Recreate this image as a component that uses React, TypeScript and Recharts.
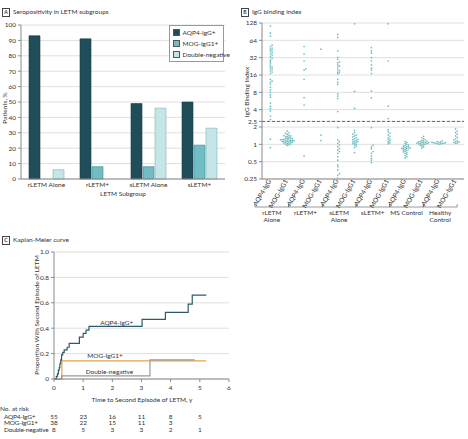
import {
  BarChart,
  Bar,
  XAxis,
  YAxis,
  CartesianGrid,
  Legend,
  ScatterChart,
  Scatter,
  ReferenceLine,
  ReferenceDot,
  LineChart,
  Line,
} from "recharts";

const font = "Lato, 'Open Sans', sans-serif";
const fs = 6.5;
const ink = "#333";
const gridC = "#e0e0e0";
const axisC = "#8a8a8a";

// ---------- panel A: seropositivity
const subgroups = ["rLETM Alone", "rLETM+", "sLETM Alone", "sLETM+"];
const aqp4Pct = [93, 91, 49, 50];
const mogPct = [null, 8, 8, 22];
const dnPct = [6, null, 46, 33];
const pctTicks = [0, 10, 20, 30, 40, 50, 60, 70, 80, 90, 100];
const seriesOrder = ["aqp4", "mog", "dn"];

const barData = subgroups.map((name, i) => ({
  name,
  aqp4: aqp4Pct[i],
  mog: mogPct[i],
  dn: dnPct[i],
}));

// ---------- panel B: IgG binding index
const markers = ["AQP4-IgG", "MOG-IgG1"];
const cohorts = ["rLETM\nAlone", "rLETM+", "sLETM\nAlone", "sLETM+", "MS Control", "Healthy\nControl"];
const indexTicks = [0.25, 0.5, 1, 2, 2.5, 4, 8, 16, 32, 64, 128];
const cutoff = 2.5;

const rletmAloneAqp4 = [113, 86, 76, 53, 50, 47, 45, 43, 41, 39, 37, 35, 33, 31, 29, 27, 25, 23, 22, 21, 20, 19, 18, 17, 13.4, 12.5, 11.8, 11, 9.8, 8.8, 8, 7.2, 6.6, 5.2, 4.6, 4.2, 3.8, 3.1, 2.7, 1.23, 0.88];
const rletmAloneMog = [1.7, 1.6, 1.55, 1.5, 1.45, 1.42, 1.4, 1.38, 1.35, 1.33, 1.3, 1.28, 1.26, 1.25, 1.24, 1.22, 1.21, 1.2, 1.19, 1.18, 1.17, 1.16, 1.15, 1.14, 1.13, 1.12, 1.11, 1.1, 1.09, 1.08, 1.06, 1.05, 1.03, 1.02, 1.0, 0.98, 0.96];
const rletmPlusAqp4 = [50, 37, 28, 20.5, 19.5, 13.5, 6.5, 4.8, 0.63];
const rletmPlusMog = [45, 1.45, 1.16];
const sletmAloneAqp4 = [81, 72, 42, 32.5, 30, 27, 26, 24, 23, 22, 20, 19, 18, 17.5, 16.7, 13.5, 12, 11, 7.5, 6.9, 6.2, 3.7, 1.95, 1.19, 1.11, 1.04, 0.97, 0.91, 0.85, 0.8, 0.75, 0.7, 0.61, 0.53, 0.44, 0.41, 0.36, 0.31, 0.29, 0.26];
const sletmAloneMog = [124, 8.3, 4.2, 1.75, 1.6, 1.5, 1.45, 1.4, 1.35, 1.3, 1.26, 1.22, 1.2, 1.17, 1.14, 1.12, 1.1, 1.08, 1.05, 1.02, 1.0, 0.97, 0.93, 0.88, 0.72];
const sletmPlusAqp4 = [48, 42, 38.5, 32, 28, 24, 21, 19.5, 17, 8.4, 6.4, 1.95, 0.97, 0.91, 0.84, 0.75, 0.7, 0.63, 0.57, 0.53, 0.48];
const sletmPlusMog = [124, 28, 4.6, 2.8, 1.8, 1.65, 1.55, 1.45, 1.38, 1.3, 1.25, 1.2, 1.15, 1.1, 1.06, 1.02];
const msAqp4 = [1.12, 1.08, 1.03, 1.0, 0.97, 0.95, 0.93, 0.91, 0.9, 0.88, 0.87, 0.86, 0.85, 0.84, 0.83, 0.82, 0.8, 0.78, 0.76, 0.74, 0.72, 0.7, 0.67, 0.64, 0.61, 0.58];
const msMog = [1.38, 1.3, 1.25, 1.2, 1.17, 1.15, 1.13, 1.12, 1.1, 1.09, 1.08, 1.07, 1.06, 1.05, 1.04, 1.03, 1.02, 1.01, 1.0, 0.98, 0.96, 0.94, 0.9, 0.86];
const healthyAqp4 = [1.15, 1.12, 1.1, 1.09, 1.08, 1.07, 1.06, 1.05, 1.05, 1.04, 1.03, 1.02, 1.0];
const healthyMog = [1.85, 1.7, 1.6, 1.5, 1.4, 1.32, 1.25, 1.2, 1.15, 1.12, 1.1, 1.08, 1.06, 1.04];

const columns = [
  rletmAloneAqp4, rletmAloneMog, rletmPlusAqp4, rletmPlusMog,
  sletmAloneAqp4, sletmAloneMog, sletmPlusAqp4, sletmPlusMog,
  msAqp4, msMog, healthyAqp4, healthyMog,
];
const notes = [
  { col: 5, value: 128, text: "a" },
  { col: 7, value: 128, text: "b" },
];

// ---------- panel C: Kaplan-Meier
const kmAqp4Years = [0, 0.08, 0.12, 0.15, 0.18, 0.2, 0.23, 0.26, 0.3, 0.35, 0.45, 0.52, 0.87, 1.0, 1.1, 1.2, 3.02, 3.82, 4.6, 4.74, 5.22];
const kmAqp4Prop = [0, 0.02, 0.04, 0.07, 0.09, 0.12, 0.15, 0.19, 0.21, 0.23, 0.25, 0.28, 0.33, 0.36, 0.385, 0.415, 0.47, 0.525, 0.59, 0.66, 0.66];
const kmMogYears = [0, 0.27, 5.22];
const kmMogProp = [0, 0.143, 0.143];
const kmDnYears = [0, 0.26, 3.29, 4.83];
const kmDnProp = [0, 0.025, 0.15, 0.15];
const yearTicks = [0, 1, 2, 3, 4, 5, 6];
const propTicks = [0, 0.2, 0.4, 0.6, 0.8, 1.0];
const riskLabels = ["AQP4-IgG+", "MOG-IgG1+", "Double-negative"];
const riskAqp4 = [55, 23, 16, 11, 8, 5];
const riskMog = [38, 22, 15, 11, 3];
const riskDn = [8, 5, 3, 3, 2, 1];

const toPoints = (t: number[], p: number[]) => t.map((x, i) => ({ t: x, p: p[i] }));
const kmAqp4 = toPoints(kmAqp4Years, kmAqp4Prop);
const kmMog = toPoints(kmMogYears, kmMogProp);
const kmDn = toPoints(kmDnYears, kmDnProp);

// simple beeswarm: spread values sideways when they sit too close on the log axis
const STEP = 0.1;
const GAP = 0.1;
function swarm(values: number[], col: number) {
  const placed: { ly: number; off: number }[] = [];
  return [...values]
    .sort((a, b) => a - b)
    .map((v) => {
      const ly = Math.log2(v);
      let k = 0;
      let off = 0;
      for (;;) {
        off = k === 0 ? 0 : (k % 2 ? 1 : -1) * Math.ceil(k / 2) * STEP;
        const hit = placed.some((p) => Math.abs(p.off - off) < STEP * 0.9 && Math.abs(p.ly - ly) < GAP);
        if (!hit) break;
        k++;
      }
      placed.push({ ly, off });
      return { x: col + 0.5 + off, y: v };
    });
}
const dots = columns.flatMap((vals, i) => swarm(vals, i));
const noteData = notes.map((n) => ({ x: n.col + 0.5, y: n.value, text: n.text }));
const colTicks = columns.map((_, i) => i + 0.5);
const colLabels = columns.map((_, i) => markers[i % 2]);

const bPlotW = 202;
const colW = bPlotW / columns.length;

const txt = { fontSize: fs, fill: ink, fontFamily: font };

const Txt = ({ x, y, children, rotate, anchor = "start", spacing }: any) => (
  <div
    style={{
      position: "absolute",
      left: x,
      top: y,
      fontSize: fs,
      lineHeight: 1,
      color: ink,
      whiteSpace: "nowrap",
      letterSpacing: spacing,
      transform:
        (anchor === "middle" ? "translate(-50%,-50%)" : "translate(0,-50%)") +
        (rotate ? ` rotate(${rotate}deg)` : ""),
    }}
  >
    {children}
  </div>
);

const PanelTag = ({ x, y, letter, title }: any) => (
  <>
    <div
      style={{
        position: "absolute",
        left: x,
        top: y,
        width: 6,
        height: 7,
        border: "0.8px solid #444",
        fontSize: 5,
        fontWeight: 700,
        lineHeight: "7px",
        textAlign: "center",
        color: ink,
      }}
    >
      {letter}
    </div>
    <Txt x={x + 11} y={y + 4}>{title}</Txt>
  </>
);

const LegendBox = ({ payload }: any) => {
  const items = [...(payload || [])].sort(
    (a: any, b: any) => seriesOrder.indexOf(a.dataKey) - seriesOrder.indexOf(b.dataKey)
  );
  return (
    <div style={{ border: "0.8px solid #999", background: "#fff", padding: "1px 3px", width: 55, height: 37, boxSizing: "border-box" }}>
      {items.map((p: any) => (
        <div key={p.value} style={{ display: "flex", alignItems: "center", height: 11, fontSize: fs, color: ink, whiteSpace: "nowrap" }}>
          <span style={{ width: 7, height: 7, background: p.color, border: "0.6px solid #555", marginRight: 2.5, boxSizing: "border-box", flex: "none" }} />
          {p.value}
        </div>
      ))}
    </div>
  );
};

const ColTick = ({ x, y, payload }: any) => {
  const i = Math.floor(payload.value);
  const ax = x + 1;
  const ay = y;
  let group = null;
  if (i % 2 === 1) {
    const cx = x - colW / 2 - 7;
    const by = y + 26;
    const lines = cohorts[(i - 1) / 2].split("\n");
    group = (
      <g>
        <path d={`M${cx - 17},${by - 3}V${by}H${cx + 17}V${by - 3}`} stroke="#555" strokeWidth={0.6} fill="none" />
        {lines.map((l, k) => (
          <text key={k} x={cx} y={by + 8 + k * 7} textAnchor="middle" {...txt}>
            {l}
          </text>
        ))}
      </g>
    );
  }
  return (
    <g>
      <text x={ax} y={ay} transform={`rotate(-60 ${ax} ${ay})`} textAnchor="end" {...txt}>
        {colLabels[i]}
      </text>
      {group}
    </g>
  );
};

const Dot = (p: any) => <circle cx={p.cx} cy={p.cy} r={0.85} fill="#6cbfc0" />;
const Note = (p: any) => (
  <text x={p.cx + 2} y={p.cy - 2} {...txt}>
    {p.payload.text}
  </text>
);

const kmLeft = 54;
const kmWidth = 175;

export default function App() {
  return (
    <div style={{ position: "relative", width: 468, height: 439, background: "#fff", fontFamily: font, overflow: "hidden" }}>
      <style>{"body{margin:0}"}</style>

      {/* A */}
      <PanelTag x={2} y={8} letter="A" title="Seropositivity in LETM subgroups" />
      <div style={{ position: "absolute", left: 0, top: 0 }}>
        <BarChart width={232} height={200} data={barData} margin={{ top: 25, right: 7, left: 0, bottom: 0 }} barSize={11} barGap={1}>
          <CartesianGrid vertical={false} stroke={gridC} />
          <XAxis dataKey="name" tick={txt} tickLine={false} axisLine={{ stroke: axisC }} height={21} interval={0} tickSize={1} />
          <YAxis domain={[0, 100]} ticks={pctTicks} tick={txt} tickSize={3} width={21} axisLine={{ stroke: axisC }} tickLine={{ stroke: axisC }} interval={0} />
          <Legend layout="vertical" align="center" verticalAlign="middle" content={<LegendBox />} wrapperStyle={{ top: 25, left: 169, width: 55 }} />
          <Bar dataKey="aqp4" name="AQP4-IgG+" fill="#1f4e5a" stroke="#173d46" strokeWidth={0.6} isAnimationActive={false} />
          <Bar dataKey="mog" name="MOG-IgG1+" fill="#72bdc3" stroke="#3f8a90" strokeWidth={0.6} isAnimationActive={false} />
          <Bar dataKey="dn" name="Double-negative" fill="#c6e5e7" stroke="#7fb1b5" strokeWidth={0.6} isAnimationActive={false} />
        </BarChart>
      </div>
      <Txt x={5} y={108} rotate={-90} anchor="middle">Patients, %</Txt>
      <Txt x={123} y={194} anchor="middle">LETM Subgroup</Txt>

      {/* B */}
      <PanelTag x={241} y={8} letter="B" title="IgG binding index" />
      <div style={{ position: "absolute", left: 232, top: 0 }}>
        <ScatterChart width={236} height={230} margin={{ top: 23, right: 4, left: 0, bottom: 25 }}>
          <CartesianGrid vertical={false} stroke={gridC} />
          <XAxis type="number" dataKey="x" domain={[0, 12]} ticks={colTicks} allowDataOverflow interval={0} tick={<ColTick />} tickLine={false} tickSize={0} axisLine={{ stroke: axisC }} height={26} />
          <YAxis type="number" dataKey="y" scale="log" domain={[0.25, 128]} ticks={indexTicks} allowDataOverflow interval={0} tick={txt} tickSize={3} width={30} axisLine={{ stroke: axisC }} tickLine={{ stroke: axisC }} tickFormatter={(v: number) => String(v)} />
          <ReferenceLine y={cutoff} stroke="#444" strokeDasharray="3 2" strokeWidth={0.8} />
          <Scatter data={dots} shape={Dot} isAnimationActive={false} />
          <Scatter data={noteData} shape={Note} isAnimationActive={false} />
        </ScatterChart>
      </div>
      <Txt x={247} y={92} rotate={-90} anchor="middle">IgG Binding Index</Txt>

      {/* C */}
      <PanelTag x={2} y={236} letter="C" title="Kaplan-Meier curve" />
      <div style={{ position: "absolute", left: 0, top: 230 }}>
        <LineChart width={kmLeft + kmWidth + 6} height={180} margin={{ top: 22, right: 6, left: 0, bottom: 0 }}>
          <CartesianGrid vertical={false} stroke={gridC} />
          <XAxis type="number" dataKey="t" domain={[0, 6]} ticks={yearTicks} allowDataOverflow interval={0} tick={txt} tickSize={3} tickMargin={3} height={31} axisLine={{ stroke: axisC }} tickLine={{ stroke: axisC }} />
          <YAxis type="number" domain={[0, 1]} ticks={propTicks} interval={0} tick={txt} tickSize={3} width={kmLeft} axisLine={{ stroke: axisC }} tickLine={{ stroke: axisC }} tickFormatter={(v: number) => (v === 0 ? "0" : v.toFixed(1))} />
          <Line data={kmMog} dataKey="p" type="stepAfter" stroke="#e8a04a" strokeWidth={1.2} dot={false} isAnimationActive={false} />
          <Line data={kmDn} dataKey="p" type="stepAfter" stroke="#9a9a9a" strokeWidth={1.2} dot={false} isAnimationActive={false} />
          <Line data={kmAqp4} dataKey="p" type="stepAfter" stroke="#2d5b66" strokeWidth={1.2} dot={false} isAnimationActive={false} />
          <ReferenceDot x={2.15} y={0.445} r={0} label={{ value: "AQP4-IgG+", position: "center", ...txt }} />
          <ReferenceDot x={1.75} y={0.18} r={0} label={{ value: "MOG-IgG1+", position: "center", ...txt }} />
          <ReferenceDot x={1.9} y={0.06} r={0} label={{ value: "Double-negative", position: "center", ...txt }} />
        </LineChart>
      </div>
      <Txt x={37} y={315} rotate={-90} anchor="middle">Proportion With Second Episode of LETM</Txt>
      <Txt x={142} y={400} anchor="middle">Time to Second Episode of LETM, y</Txt>
      <Txt x={0} y={409}>No. at risk</Txt>
      {[riskAqp4, riskMog, riskDn].map((row, r) => (
        <div key={r}>
          <Txt x={4} y={417 + r * 6.3} spacing={-0.2}>{riskLabels[r]}</Txt>
          {row.map((n, i) => (
            <Txt key={i} x={kmLeft + (i * kmWidth) / 6} y={417 + r * 6.3} anchor="middle">{n}</Txt>
          ))}
        </div>
      ))}
    </div>
  );
}
